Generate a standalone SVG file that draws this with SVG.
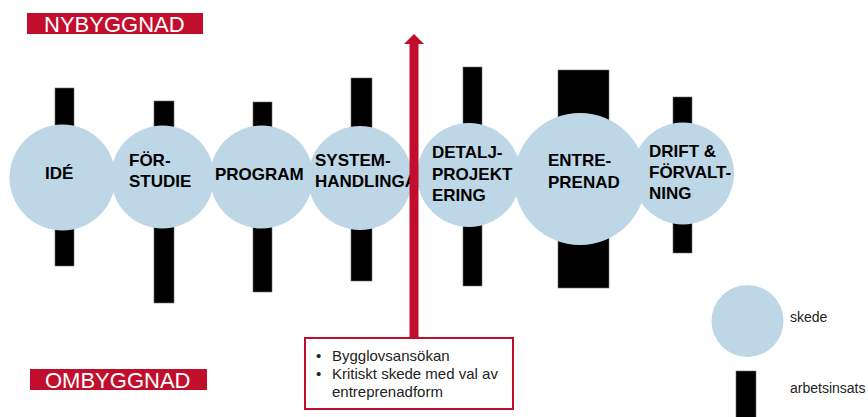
<svg xmlns="http://www.w3.org/2000/svg" width="868" height="417" viewBox="0 0 868 417">
<style>
.bar{fill:#000;stroke:#6e6e6e;stroke-width:0.6}
.phase{fill:#bed7e6}
.lbl{font-family:"Liberation Sans",Arial,sans-serif;font-weight:bold;font-size:17px;fill:#000}
.ban{fill:#c20e2d}
.bantxt{font-family:"Liberation Sans",Arial,sans-serif;font-size:22px;fill:#fff}
.note{font-family:"Liberation Sans",Arial,sans-serif;font-size:15px;fill:#222}
.leg{font-family:"Liberation Sans",Arial,sans-serif;font-size:14px;fill:#222}
</style>
<rect x="0" y="0" width="868" height="417" fill="#fff"/>
<g id="banner-nybyggnad">
<rect class="ban" x="27" y="13" width="176" height="21"/>
<text class="bantxt" x="44" y="32">NYBYGGNAD</text>
</g>
<g id="banner-ombyggnad">
<rect class="ban" x="30" y="369" width="177" height="21"/>
<text class="bantxt" x="45" y="388">OMBYGGNAD</text>
</g>
<g id="bars">
<rect class="bar" x="55" y="88" width="19" height="178"/>
<rect class="bar" x="154" y="101" width="20" height="202"/>
<rect class="bar" x="253" y="102" width="19" height="190"/>
<rect class="bar" x="351" y="78" width="21" height="203"/>
<rect class="bar" x="463" y="67" width="19" height="219"/>
<rect class="bar" x="558" y="70" width="51" height="218"/>
<rect class="bar" x="673" y="97" width="19" height="156"/>
</g>
<g id="ide">
<circle class="phase" cx="62.5" cy="177.5" r="53"/>
<text class="lbl" x="45" y="179">IDÉ</text>
</g>
<g id="forstudie">
<circle class="phase" cx="162.5" cy="177" r="51.5"/>
<text class="lbl" x="129" y="166">FÖR-</text>
<text class="lbl" x="129" y="187">STUDIE</text>
</g>
<g id="program">
<circle class="phase" cx="261.5" cy="177" r="51.5"/>
<text class="lbl" x="215" y="180">PROGRAM</text>
</g>
<g id="systemhandlingar">
<circle class="phase" cx="360" cy="178" r="52"/>
<text class="lbl" x="315" y="166">SYSTEM-</text>
<text class="lbl" x="315" y="187">HANDLINGAR</text>
</g>
<g id="detaljprojektering">
<circle class="phase" cx="469" cy="175" r="52"/>
<text class="lbl" x="432" y="158">DETALJ-</text>
<text class="lbl" x="432" y="180">PROJEKT</text>
<text class="lbl" x="432" y="201">ERING</text>
</g>
<g id="entreprenad">
<circle class="phase" cx="580" cy="179" r="66"/>
<text class="lbl" x="548" y="166">ENTRE-</text>
<text class="lbl" x="548" y="188">PRENAD</text>
</g>
<g id="drift">
<circle class="phase" cx="683" cy="173.5" r="51"/>
<text class="lbl" x="649" y="157">DRIFT &amp;</text>
<text class="lbl" x="649" y="178">FÖRVALT-</text>
<text class="lbl" x="649" y="199">NING</text>
</g>
<g id="connectors">
<rect x="409.5" y="43" width="9" height="295" fill="#c20e2d"/>
<polygon points="414,34 424,44 404,44" fill="#c20e2d"/>
</g>
<g id="note">
<rect x="305" y="338" width="208" height="71" fill="#fff" stroke="#c20e2d" stroke-width="2"/>
<text class="note" x="316" y="361">•</text>
<text class="note" x="332" y="361">Bygglovsansökan</text>
<text class="note" x="316" y="379">•</text>
<text class="note" x="332" y="379">Kritiskt skede med val av</text>
<text class="note" x="332" y="397">entreprenadform</text>
</g>
<g id="legend-skede">
<circle class="phase" cx="747.5" cy="321" r="36"/>
<text class="leg" x="790" y="322">skede</text>
</g>
<g id="legend-arbetsinsats">
<rect class="bar" x="736" y="371" width="20" height="50"/>
<text class="leg" x="790" y="393">arbetsinsats</text>
</g>
</svg>
